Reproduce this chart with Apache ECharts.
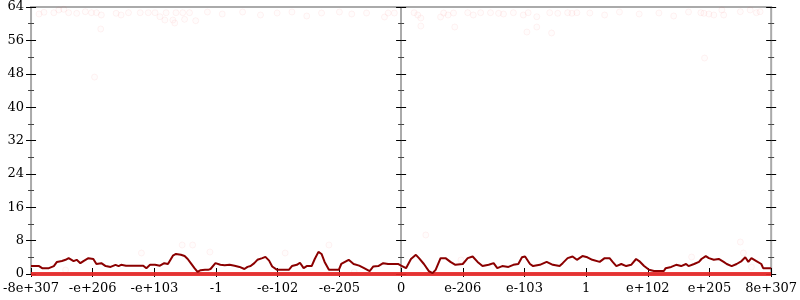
<!DOCTYPE html>
<html>
<head>
<meta charset="utf-8">
<script src="https://cdn.jsdelivr.net/npm/echarts@6/dist/echarts.min.js"></script>
<style>html,body{margin:0;padding:0;background:#fff}#c{width:800px;height:300px}</style>
</head>
<body>
<div id="c"></div>
<script>
// x tick labels (axis index -6..6 maps to these)
const xTickLabels = ['-8e+307','-e+206','-e+103','-1','-e-102','-e-205','0','e-206','e-103','1','e+102','e+205','8e+307'];
const yTicks = [0, 8, 16, 24, 32, 40, 48, 56, 64];

// dark red line (x in tick-index units, y value)
const lineX = [-6.00,-5.87,-5.82,-5.71,-5.63,-5.58,-5.50,-5.44,-5.39,-5.31,-5.26,-5.20,-5.15,-5.07,-4.99,-4.94,-4.86,-4.79,-4.71,-4.63,-4.58,-4.54,-4.46,-4.34,-4.18,-4.13,-4.07,-3.99,-3.91,-3.84,-3.78,-3.70,-3.65,-3.57,-3.51,-3.46,-3.41,-3.35,-3.30,-3.25,-3.18,-3.13,-3.09,-3.01,-2.93,-2.86,-2.78,-2.70,-2.62,-2.54,-2.49,-2.44,-2.38,-2.33,-2.25,-2.20,-2.14,-2.09,-2.01,-1.96,-1.82,-1.77,-1.69,-1.64,-1.58,-1.53,-1.45,-1.40,-1.34,-1.29,-1.24,-1.17,-1.01,-0.97,-0.85,-0.77,-0.68,-0.60,-0.51,-0.45,-0.37,-0.29,-0.21,-0.05,0.00,0.08,0.16,0.24,0.29,0.37,0.45,0.51,0.56,0.64,0.72,0.80,0.88,1.00,1.08,1.16,1.24,1.32,1.42,1.50,1.56,1.64,1.74,1.82,1.90,1.96,2.01,2.09,2.14,2.25,2.36,2.46,2.57,2.62,2.70,2.78,2.85,2.94,3.02,3.10,3.22,3.30,3.38,3.43,3.49,3.57,3.65,3.73,3.81,3.86,3.94,4.02,4.10,4.26,4.29,4.38,4.46,4.54,4.62,4.66,4.75,4.83,4.87,4.94,4.99,5.07,5.15,5.23,5.28,5.36,5.44,5.52,5.58,5.63,5.68,5.76,5.84,5.87,6.00];
const lineY = [1.9,1.9,1.4,1.4,1.9,2.9,3.1,3.4,3.8,3.1,3.4,2.6,3.1,3.8,3.6,2.4,2.6,1.9,1.7,2.2,1.9,2.2,2.0,2.0,2.0,1.4,2.2,2.2,2.0,2.6,2.4,4.4,4.8,4.6,4.3,3.6,2.6,1.4,0.5,0.9,1.0,1.0,1.2,2.6,2.2,2.1,2.2,2.0,1.7,1.2,1.7,1.9,2.6,3.4,3.8,4.1,3.2,1.8,1.0,1.0,1.0,1.9,2.2,2.7,1.4,1.9,1.9,3.6,5.3,4.8,2.9,1.0,1.0,2.4,3.4,2.4,2.0,1.4,0.7,1.8,1.9,2.6,2.4,2.4,2.0,1.4,3.6,4.6,3.8,2.4,0.7,0.2,1.0,3.8,3.8,2.9,2.2,2.4,3.8,4.2,2.9,1.9,2.2,2.6,1.4,1.9,1.7,2.2,2.4,4.0,4.2,2.4,1.9,2.2,2.9,2.2,1.9,2.6,3.8,4.2,3.4,4.3,4.0,3.4,2.9,3.8,3.8,2.9,1.9,2.4,1.9,2.2,3.6,3.1,1.9,1.0,0.7,0.7,1.4,1.7,2.2,1.9,2.4,1.9,2.4,2.9,3.6,4.3,3.8,3.4,3.6,2.9,2.4,1.9,2.4,3.1,4.0,2.9,3.8,3.1,2.4,1.4,1.4];

// red baseline series
const baseX = [-6, 6];
const baseY = [0, 0];

// faint scattered points
const dotX = [-5.87,-5.79,-5.63,-5.55,-5.47,-5.39,-5.26,-5.12,-5.02,-4.94,-4.86,-4.87,-4.97,-4.62,-4.54,-4.42,-4.23,-4.10,-3.99,-3.91,-3.81,-3.83,-3.70,-3.67,-3.65,-3.54,-3.43,-3.51,-3.33,-3.14,-2.90,-2.57,-2.28,-2.01,-1.77,-1.53,-1.29,-1.00,-0.80,-0.56,-0.27,-0.21,-0.11,0.21,0.27,0.32,0.32,0.64,0.69,0.76,0.85,0.87,1.08,1.17,1.29,1.45,1.58,1.66,1.82,1.98,2.06,2.20,2.04,2.20,2.41,2.44,2.54,2.70,2.77,2.85,3.06,3.30,3.54,3.86,4.18,4.42,4.66,4.86,4.91,4.99,5.07,5.20,5.23,5.50,5.66,5.76,5.82,4.92,-4.21,-5.44,-3.55,-3.38,-3.10,-1.88,-1.17,-0.76,0.40,0.97,5.50,5.55,4.71,5.68];
const dotY = [62.32,62.73,62.63,63.28,63.45,62.63,62.49,62.87,62.63,62.63,62.08,58.73,47.2,62.49,62.08,62.63,62.63,62.63,62.63,61.67,62.63,60.88,60.88,60.16,62.63,62.63,62.63,61.05,60.71,62.8,62.32,62.8,62.08,62.56,62.8,61.84,62.56,62.8,62.32,62.56,61.6,62.56,62.56,62.63,62.08,61.36,59.44,61.6,62.56,62.08,62.56,59.2,62.63,62.08,62.63,62.63,62.49,62.32,62.63,62.08,62.63,61.67,58.0,59.2,62.63,57.77,62.49,62.63,62.49,62.63,62.56,62.08,62.8,62.32,62.56,61.84,62.8,62.63,62.49,62.32,62.08,63.28,62.08,62.87,63.28,62.63,62.87,51.77,5.03,0.96,6.95,6.95,5.27,5.03,6.95,0.48,9.35,3.36,7.67,5.03,4.07,1.68];

const zip = (a, b) => a.map((v, i) => [v, b[i]]);

const FONT = 'DejaVu Serif';
const GREY = '#aaaaaa';

function yAx(opts) {
  return Object.assign({
    type: 'value', min: 0, max: 64, interval: 8,
    splitLine: { show: false },
    axisLabel: { show: false },
    axisLine: { show: false, onZero: false },
    axisTick: { show: true, length: 5, inside: false, lineStyle: { color: '#000', width: 1 } },
    minorTick: { show: true, splitNumber: 2, length: 3, lineStyle: { color: '#444', width: 1 } }
  }, opts);
}

const chart = echarts.init(document.getElementById('c'), null, { renderer: 'canvas' });
chart.setOption({
  animation: false,
  backgroundColor: '#fff',
  grid: { left: 27, right: 27, top: 7, bottom: 26, show: true, borderColor: GREY, borderWidth: 2, backgroundColor: 'transparent' },
  xAxis: [
    {
      type: 'value', min: -6, max: 6, interval: 1, position: 'bottom',
      splitLine: { show: false },
      axisLine: { show: false, onZero: false },
      axisTick: { show: true, inside: true, length: 6, lineStyle: { color: '#000', width: 1 } },
      axisLabel: { show: true, margin: 8, fontFamily: FONT, fontSize: 13, color: '#000',
        showMinLabel: true, showMaxLabel: true, hideOverlap: false,
        formatter: v => xTickLabels[Math.round(v) + 6] }
    },
    {
      type: 'value', min: -6, max: 6, interval: 1, position: 'bottom',
      splitLine: { show: false },
      axisLine: { show: false, onZero: false },
      axisTick: { show: true, inside: false, length: 3, lineStyle: { color: '#000', width: 1 } },
      axisLabel: { show: false }
    }
  ],
  yAxis: [
    yAx({ position: 'left',
      axisLabel: { show: true, margin: 7, fontFamily: FONT, fontSize: 13, color: '#000',
        showMinLabel: true, showMaxLabel: true,
        formatter: v => String(yTicks[Math.round(v / 8)]) } }),
    yAx({ position: 'left', axisTick: { show: true, inside: true, length: 5, lineStyle: { color: '#000', width: 1 } },
      minorTick: { show: true, splitNumber: 2, length: 3, lineStyle: { color: '#444', width: 1 } } }),
    yAx({ position: 'left', axisLine: { show: true, onZero: true, onZeroAxisIndex: 0, lineStyle: { color: GREY, width: 2 } } }),
    yAx({ position: 'left', axisLine: { show: false, onZero: true, onZeroAxisIndex: 0 },
      axisTick: { show: true, inside: true, length: 5, lineStyle: { color: '#000', width: 1 } } }),
    yAx({ position: 'right' }),
    yAx({ position: 'right', axisTick: { show: true, inside: true, length: 5, lineStyle: { color: '#000', width: 1 } } })
  ],
  series: [
    {
      type: 'scatter', xAxisIndex: 0, yAxisIndex: 0,
      data: zip(dotX, dotY), symbol: 'circle', symbolSize: 6,
      itemStyle: { color: 'rgba(255,80,80,0.025)', borderColor: 'rgba(230,40,40,0.07)', borderWidth: 1 },
      silent: true, z: 1
    },
    {
      type: 'line', xAxisIndex: 0, yAxisIndex: 0,
      data: zip(baseX, baseY), symbol: 'none',
      lineStyle: { color: 'rgba(232,38,38,0.9)', width: 4 }, z: 2
    },
    {
      type: 'line', xAxisIndex: 0, yAxisIndex: 0,
      data: zip(lineX, lineY), symbol: 'none',
      lineStyle: { color: '#8b0000', width: 2 }, z: 3
    }
  ]
});
</script>
</body>
</html>
